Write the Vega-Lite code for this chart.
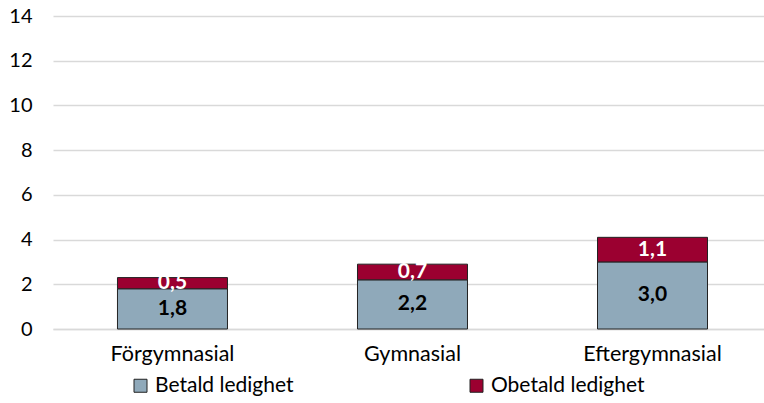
{
  "$schema": "https://vega.github.io/schema/vega-lite/v6.json",
  "width": 711,
  "height": 313,
  "autosize": {"type": "none"},
  "padding": {"left": 53, "top": 16, "right": 0, "bottom": 74},
  "background": "white",
  "config": {
    "locale": {"number": {"decimal": ",", "thousands": " ", "grouping": [3], "currency": ["", " kr"]}},
    "view": {"stroke": null},
    "font": "Lato"
  },
  "data": {
    "values": [
      {"kategori": "Förgymnasial", "typ": "Betald ledighet", "ordning": 1, "varde": 1.8},
      {"kategori": "Förgymnasial", "typ": "Obetald ledighet", "ordning": 2, "varde": 0.5},
      {"kategori": "Gymnasial", "typ": "Betald ledighet", "ordning": 1, "varde": 2.2},
      {"kategori": "Gymnasial", "typ": "Obetald ledighet", "ordning": 2, "varde": 0.7},
      {"kategori": "Eftergymnasial", "typ": "Betald ledighet", "ordning": 1, "varde": 3.0},
      {"kategori": "Eftergymnasial", "typ": "Obetald ledighet", "ordning": 2, "varde": 1.1}
    ]
  },
  "transform": [
    {"stack": "varde", "groupby": ["kategori"], "sort": [{"field": "ordning"}], "as": ["y0", "y1"]},
    {"calculate": "(datum.y0 + datum.y1) / 2", "as": "mid"}
  ],
  "encoding": {
    "x": {
      "field": "kategori",
      "type": "nominal",
      "sort": ["Förgymnasial", "Gymnasial", "Eftergymnasial"],
      "scale": {"paddingInner": 0.5417, "paddingOuter": 0.252, "align": 0.533},
      "axis": {
        "title": null,
        "labelAngle": 0,
        "labelFontSize": 21.5,
        "labelColor": "#000000",
        "labelPadding": 14,
        "ticks": false,
        "domainColor": "#d9d9d9",
        "domainWidth": 1.5,
        "labelFont": "Lato"
      }
    }
  },
  "layer": [
    {
      "mark": {"type": "bar", "stroke": "#222222", "strokeWidth": 1},
      "encoding": {
        "y": {
          "field": "y0",
          "type": "quantitative",
          "scale": {"domain": [0, 14]},
          "axis": {
            "title": null,
            "values": [0, 2, 4, 6, 8, 10, 12, 14],
            "labelFontSize": 20,
            "labelColor": "#000000",
            "labelPadding": 21,
            "ticks": false,
            "domain": false,
            "gridColor": "#d9d9d9",
            "gridWidth": 1.5,
            "labelFont": "Lato"
          }
        },
        "y2": {"field": "y1"},
        "color": {
          "field": "typ",
          "type": "nominal",
          "scale": {"domain": ["Betald ledighet", "Obetald ledighet"], "range": ["#8FA9BA", "#9B0030"]},
          "legend": {
            "title": null,
            "orient": "none",
            "legendX": 77,
            "legendY": 359,
            "direction": "horizontal",
            "symbolType": "square",
            "symbolSize": 169,
            "symbolStrokeColor": "#222222",
            "symbolStrokeWidth": 1,
            "labelFontSize": 21,
            "labelColor": "#000000",
            "labelFont": "Lato",
            "labelOffset": 4,
            "columnPadding": 172,
            "labelLimit": 300
          }
        }
      }
    },
    {
      "mark": {"type": "text", "fontWeight": "bold", "fontSize": 21, "font": "Lato", "baseline": "middle"},
      "encoding": {
        "y": {"field": "mid", "type": "quantitative"},
        "text": {"field": "varde", "type": "quantitative", "format": ".1f"},
        "color": {
          "condition": {"test": "datum.typ === 'Betald ledighet'", "value": "#000000"},
          "value": "#ffffff"
        }
      }
    }
  ]
}
